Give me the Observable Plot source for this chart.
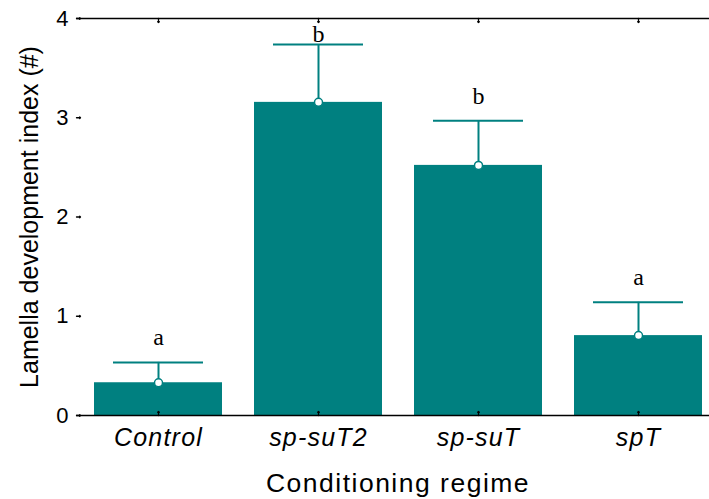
<!DOCTYPE html>
<html><head><meta charset="utf-8">
<script src="https://cdn.jsdelivr.net/npm/d3@7"></script>
<script src="https://cdn.jsdelivr.net/npm/@observablehq/plot@0.6"></script>
<style>body{margin:0;background:#fff} svg{display:block}</style>
</head><body><div id="chart"></div>
<script>
const categories = ["Control", "sp-suT2", "sp-suT", "spT"];
const means = [0.33, 3.155, 2.52, 0.805];
const upper = [0.535, 3.737, 2.97, 1.14];
const letters = ["a", "b", "b", "a"];
const yTicks = [0, 1, 2, 3, 4];
const xTitle = "Conditioning regime";
const yTitle = "Lamella development index (#)";

const data = categories.map((c, i) => ({cat: c, mean: means[i], hi: upper[i], letter: letters[i]}));
const teal = "#008080";

const plot = Plot.plot({
  width: 709, height: 499,
  marginLeft: 76, marginRight: 0, marginTop: 18, marginBottom: 84,
  style: {fontFamily: "'Liberation Sans', Arial, sans-serif", background: "#fff", overflow: "hidden", color: "black"},
  x: {domain: categories, range: [77, 719], paddingInner: 0.2, paddingOuter: 0.1},
  y: {domain: [0, 4]},
  marks: [
    Plot.barY(data, {x: "cat", y: "mean", fill: teal}),
    Plot.ruleX(data, {x: "cat", y1: "mean", y2: "hi", stroke: teal, strokeWidth: 2}),
    Plot.tickY(data, {x: "cat", y: "hi", stroke: teal, strokeWidth: 2, insetLeft: 19, insetRight: 19}),
    Plot.dot(data, {x: "cat", y: "mean", r: 4, fill: "white", stroke: teal, strokeWidth: 1.5}),
    // letters sit above the caps, kept inside the frame at the top
    Plot.text(data, {x: "cat", y: d => Math.min(d.hi, 3.59), text: "letter", dy: -17, lineAnchor: "bottom",
      fontFamily: "'Liberation Serif', 'Times New Roman', serif", fontSize: 24, fill: "black"}),
    Plot.ruleY([0, 4], {stroke: "black", strokeWidth: 1.3}),
    // inward tick marks
    Plot.vector(yTicks, {y: d => d, frameAnchor: "left", rotate: 90, length: 4, anchor: "start", stroke: "black", strokeWidth: 1.3}),
    Plot.vector(categories, {x: d => d, frameAnchor: "bottom", rotate: 0, length: 4, anchor: "start", stroke: "black", strokeWidth: 1.3}),
    Plot.vector(categories, {x: d => d, frameAnchor: "top", rotate: 180, length: 4, anchor: "start", stroke: "black", strokeWidth: 1.3}),
    Plot.axisY({ticks: yTicks, tickSize: 0, tickPadding: 8, line: true, fontSize: 22, label: null,
      strokeWidth: 1.3, tickFormat: d => String(d)}),
    Plot.axisX({anchor: "bottom", tickSize: 0, tickPadding: 13, fontSize: 25, fontStyle: "italic", label: null}),
    Plot.text([xTitle], {frameAnchor: "bottom", dx: 5, dy: 76, lineAnchor: "bottom", fontSize: 26.5, fill: "black"}),
    Plot.text([yTitle], {frameAnchor: "left", textAnchor: "middle", rotate: -90, dx: -39, lineAnchor: "bottom",
      fontSize: 25, fill: "black"})
  ]
});

plot.querySelectorAll("text").forEach(t => {
  const s = t.textContent;
  if (categories.includes(s)) t.setAttribute("letter-spacing", "1.2");
  if (s === xTitle) t.setAttribute("letter-spacing", "1.5");
});

document.getElementById("chart").append(plot);
</script>
</body></html>
